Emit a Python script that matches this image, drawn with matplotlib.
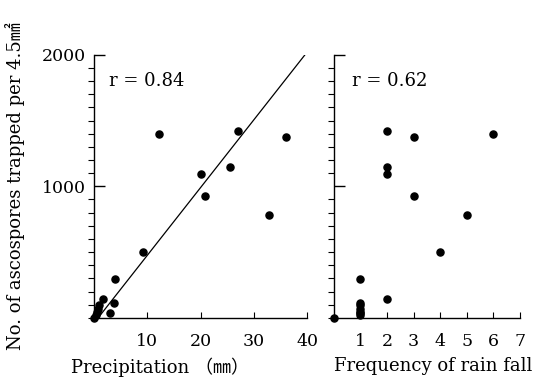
import matplotlib
matplotlib.use("Agg")
import matplotlib.pyplot as plt
import numpy as np
from matplotlib.ticker import MultipleLocator

plt.rcParams['font.family'] = ['DejaVu Serif', 'Noto Sans CJK JP']

# --- data ---
ascospores = [1394, 1417, 1374, 1147, 1090, 923, 779, 501, 296, 144,
              114, 96, 38, 0, 20, 45, 70]
precipitation = [12.2, 27.1, 36.1, 25.6, 20.1, 20.9, 32.9, 9.2, 4.0, 1.6,
                 3.7, 0.9, 3.0, 0.0, 0.3, 0.5, 0.8]
rain_frequency = [6, 2, 3, 2, 2, 3, 5, 4, 1, 2,
                  1, 1, 1, 0, 1, 1, 1]
fit_slope = 51.5
fit_intercept = -40
r_precip = "r = 0.84"
r_freq = "r = 0.62"

fig = plt.figure(figsize=(5.34, 3.83), dpi=100)
ax1 = fig.add_axes([0.176, 0.170, 0.399, 0.687])
ax2 = fig.add_axes([0.625, 0.170, 0.349, 0.687])

for ax in (ax1, ax2):
    for s in ("top", "right"):
        ax.spines[s].set_visible(False)
    for s in ("left", "bottom"):
        ax.spines[s].set_linewidth(1.0)
    ax.set_ylim(0, 2000)
    ax.yaxis.set_major_locator(MultipleLocator(1000))
    ax.yaxis.set_minor_locator(MultipleLocator(100))
    ax.tick_params(direction="in", labelsize=12.5)
    ax.tick_params(axis="y", which="major", length=8, width=1, pad=6)
    ax.tick_params(axis="y", which="minor", length=4, width=0.8)
    ax.tick_params(axis="x", length=4, width=0.8, pad=11)

# --- precipitation panel ---
ax1.scatter(precipitation, ascospores, s=26, color="black", clip_on=False, zorder=3)
x_line = np.array([-fit_intercept / fit_slope, (2000 - fit_intercept) / fit_slope])
ax1.plot(x_line, fit_slope * x_line + fit_intercept, color="black", lw=0.9)
ax1.set_xlim(0, 40)
ax1.set_xticks([10, 20, 30, 40])
ax1.set_yticks([1000, 2000])
ax1.text(0.07, 0.9, r_precip, transform=ax1.transAxes, fontsize=13, va="center")
ax1.set_xlabel("Precipitation （㎜）", fontsize=13, labelpad=8)
ax1.xaxis.set_label_coords(0.31, -0.15)
ax1.set_ylabel("No. of ascospores trapped per 4.5㎟", fontsize=13, labelpad=12)

# --- frequency panel ---
ax2.scatter(rain_frequency, ascospores, s=26, color="black", clip_on=False, zorder=3)
ax2.set_xlim(0, 7)
ax2.set_xticks([1, 2, 3, 4, 5, 6, 7])
ax2.set_yticks([1000, 2000])
ax2.set_yticklabels([])
ax2.text(0.1, 0.9, r_freq, transform=ax2.transAxes, fontsize=13, va="center")
ax2.set_xlabel("Frequency of rain fall", fontsize=13, labelpad=8)
ax2.xaxis.set_label_coords(0.535, -0.15)

fig.savefig("out.png", dpi=100)
